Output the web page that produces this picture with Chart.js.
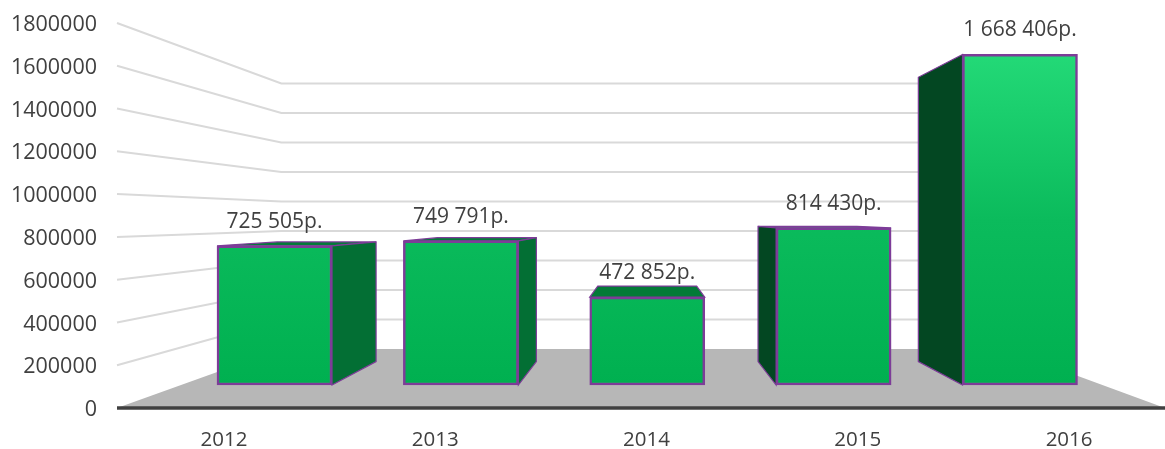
<!DOCTYPE html>
<html>
<head>
<meta charset="utf-8">
<title>3D bars</title>
<script src="https://cdn.jsdelivr.net/npm/chart.js@4"></script>
<style>
  html, body { margin: 0; background: #fff; overflow: hidden; }
  canvas { display: block; }
</style>
</head>
<body>
<canvas id="barsChart" width="1165" height="449"></canvas>
<script>
const years = [2012, 2013, 2014, 2015, 2016];
const values = [725505, 749791, 472852, 814430, 1668406];

const yAxisMax = 1800000;
const yAxisStep = 200000;

// the bars stand on a floor set back from the axis, so they get their own hidden scales
const barBase = 40000;
const barsYMin = -73300;
const barsYMax = 1823250;
const barsXMin = 2011.155;
const barsXMax = 2016.778;

// perspective: everything shrinks towards one vanishing point
const vanishX = 647;
const vanishY = 218;
const barDepth = 0.86;
const wallDepth = 0.69;

const textColor = '#404040';
const fontFamily = '"Open Sans", sans-serif';
const purple = '#7d3c98';

function project(x, y, depth) {
  return [vanishX + (x - vanishX) * depth, vanishY + (y - vanishY) * depth];
}

function poly(ctx, points, fill, stroke) {
  ctx.beginPath();
  points.forEach((p, i) => i ? ctx.lineTo(p[0], p[1]) : ctx.moveTo(p[0], p[1]));
  ctx.closePath();
  ctx.fillStyle = fill;
  ctx.fill();
  if (stroke) {
    ctx.strokeStyle = stroke;
    ctx.lineWidth = 1.2;
    ctx.stroke();
  }
}

const scene3d = {
  id: 'scene3d',
  beforeDatasetsDraw(chart) {
    const { ctx, chartArea: a, scales } = chart;
    ctx.save();

    // wall lines
    ctx.strokeStyle = '#d9d9d9';
    ctx.lineWidth = 2;
    scales.y.ticks.forEach(t => {
      if (t.value === 0) return;
      const py = scales.y.getPixelForValue(t.value);
      const back = project(a.left, py, wallDepth);
      const backRight = project(a.right, py, wallDepth);
      ctx.beginPath();
      ctx.moveTo(a.left, py);
      ctx.lineTo(back[0], back[1]);
      ctx.lineTo(backRight[0], backRight[1]);
      ctx.stroke();
    });

    // floor
    const zero = scales.y.getPixelForValue(0);
    poly(ctx, [
      [a.left, zero],
      project(a.left, zero, wallDepth),
      project(a.right, zero, wallDepth),
      [a.right, zero]
    ], '#b7b7b7');

    ctx.strokeStyle = textColor;
    ctx.lineWidth = 3.5;
    ctx.beginPath();
    ctx.moveTo(a.left, zero);
    ctx.lineTo(a.right, zero);
    ctx.stroke();

    // visible side and top faces of each bar
    chart.getDatasetMeta(0).data.forEach(bar => {
      const l = bar.x - bar.width / 2;
      const r = bar.x + bar.width / 2;
      const t = bar.y;
      const b = bar.base;
      if (t > vanishY) {
        poly(ctx, [[l, t], project(l, t, barDepth), project(r, t, barDepth), [r, t]], '#037a38', purple);
      }
      if (r < vanishX) {
        poly(ctx, [[r, t], project(r, t, barDepth), project(r, b, barDepth), [r, b]], '#036f34', purple);
      }
      if (l > vanishX) {
        poly(ctx, [[l, t], project(l, t, barDepth), project(l, b, barDepth), [l, b]], '#034722', purple);
      }
    });
    ctx.restore();
  },
  afterDatasetsDraw(chart) {
    const { ctx } = chart;
    ctx.save();
    ctx.fillStyle = textColor;
    ctx.font = '21px ' + fontFamily;
    ctx.textAlign = 'center';
    ctx.textBaseline = 'middle';
    chart.getDatasetMeta(0).data.forEach((bar, i) => {
      const label = String(values[i]).replace(/\B(?=(\d{3})+$)/g, ' ') + 'р.';
      ctx.fillText(label, bar.x, bar.y - 24);
    });
    ctx.restore();
  }
};

function barGradient(context) {
  const { chart } = context;
  if (!chart.chartArea) return '#00b050';
  const yBars = chart.scales.yBars;
  const g = chart.ctx.createLinearGradient(0, yBars.getPixelForValue(Math.max(...values)), 0, yBars.getPixelForValue(barBase));
  g.addColorStop(0, '#23d977');
  g.addColorStop(0.5, '#0bbb5c');
  g.addColorStop(1, '#00b050');
  return g;
}

new Chart(document.getElementById('barsChart'), {
  type: 'bar',
  data: {
    datasets: [{
      data: years.map((year, i) => ({ x: year, y: values[i] })),
      xAxisID: 'xBars',
      yAxisID: 'yBars',
      base: barBase,
      barThickness: 115,
      backgroundColor: barGradient,
      borderColor: purple,
      borderWidth: 2.5,
      borderSkipped: false
    }]
  },
  options: {
    responsive: false,
    animation: false,
    layout: { padding: { top: 23 } },
    plugins: {
      legend: { display: false },
      tooltip: { enabled: false }
    },
    scales: {
      x: {
        type: 'linear',
        position: 'bottom',
        offset: false,
        min: 2011.4935,
        max: 2016.454,
        grid: { display: false, drawTicks: false, offset: false },
        border: { display: false },
        afterBuildTicks: scale => { scale.ticks = years.map(value => ({ value })); },
        afterFit: scale => {
          scale.height = 41;
          scale.paddingLeft = 0;
          scale.paddingRight = 0;
        },
        ticks: {
          autoSkip: false,
          maxRotation: 0,
          padding: 20,
          color: textColor,
          font: { family: fontFamily, size: 20.5 },
          callback: value => String(value)
        }
      },
      y: {
        type: 'linear',
        position: 'left',
        min: 0,
        max: yAxisMax,
        grid: { display: false, drawTicks: false },
        border: { display: false },
        afterFit: scale => {
          scale.width = 117;
          scale.paddingTop = 0;
          scale.paddingBottom = 0;
        },
        ticks: {
          stepSize: yAxisStep,
          padding: 20,
          labelOffset: 2,
          color: textColor,
          font: { family: fontFamily, size: 21.5 },
          callback: value => String(value)
        }
      },
      xBars: {
        type: 'linear',
        display: false,
        offset: false,
        grid: { offset: false },
        min: barsXMin,
        max: barsXMax
      },
      yBars: {
        type: 'linear',
        display: false,
        min: barsYMin,
        max: barsYMax
      }
    }
  },
  plugins: [scene3d]
});
</script>
</body>
</html>
